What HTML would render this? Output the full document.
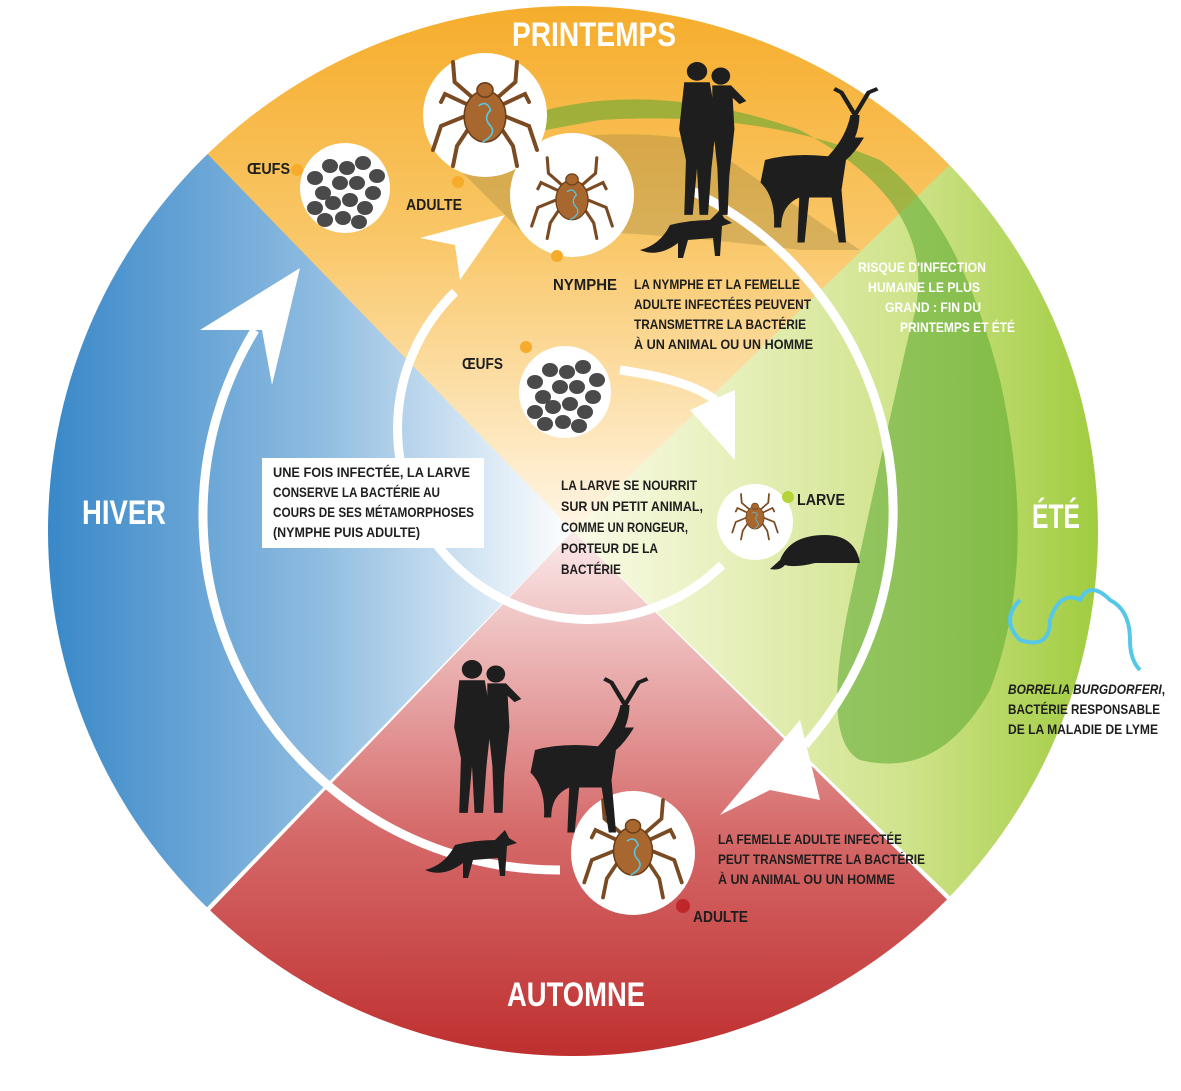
<!DOCTYPE html>
<html><head><meta charset="utf-8"><style>
html,body{margin:0;padding:0;background:#fff;width:1181px;height:1091px;overflow:hidden}
svg{display:block}
text{font-family:"Liberation Sans Narrow","Liberation Sans",sans-serif;font-weight:bold}
</style></head><body>
<svg width="1181" height="1091" viewBox="0 0 1181 1091" xmlns="http://www.w3.org/2000/svg">
<defs>
<clipPath id="c"><circle cx="573" cy="531" r="525"/></clipPath>
<linearGradient id="gt" x1="0" y1="0" x2="0" y2="1"><stop offset="0" stop-color="#f6ac2a"/><stop offset="0.45" stop-color="#f9c768"/><stop offset="1" stop-color="#fff6e6"/></linearGradient>
<linearGradient id="gl" x1="0" y1="0" x2="1" y2="0"><stop offset="0" stop-color="#2a7fc4"/><stop offset="0.55" stop-color="#8dbbe0"/><stop offset="1" stop-color="#ffffff"/></linearGradient>
<linearGradient id="gb" x1="0" y1="1" x2="0" y2="0"><stop offset="0" stop-color="#b71c1c"/><stop offset="0.5" stop-color="#d66a6a"/><stop offset="1" stop-color="#fbeaea"/></linearGradient>
<linearGradient id="gr" x1="1" y1="0" x2="0" y2="0"><stop offset="0" stop-color="#8cc21f"/><stop offset="0.45" stop-color="#cfe38a"/><stop offset="1" stop-color="#fbfbe8"/></linearGradient>
<g id="tick">
<g stroke="#7a4a22" stroke-width="5" fill="none" stroke-linecap="round">
<path d="M-15,-15 L-38,-35 L-40,-60"/><path d="M15,-15 L38,-35 L40,-60"/>
<path d="M-18,-5 L-50,-20 L-55,-10"/><path d="M18,-5 L50,-20 L55,-10"/>
<path d="M-18,5 L-55,20 L-65,50"/><path d="M18,5 L55,20 L65,50"/>
<path d="M-15,15 L-35,45 L-40,70"/><path d="M15,15 L35,45 L40,70"/>
</g>
<ellipse cx="0" cy="8" rx="26" ry="32" fill="#a8672f" stroke="#6b3e1a" stroke-width="2"/>
<ellipse cx="0" cy="-25" rx="10" ry="9" fill="#a8672f" stroke="#6b3e1a" stroke-width="2"/>
<path d="M-8,-5 q10,-8 15,5 q-10,10 0,20 q8,10 -10,20" stroke="#55c8e8" stroke-width="2" fill="none"/>
</g>
<g id="eggs" fill="#4a4a4a">
<ellipse cx="-30" cy="-10" rx="8" ry="7"/><ellipse cx="-15" cy="-22" rx="8" ry="7"/><ellipse cx="2" cy="-20" rx="8" ry="7"/><ellipse cx="18" cy="-25" rx="8" ry="7"/><ellipse cx="32" cy="-12" rx="8" ry="7"/>
<ellipse cx="-22" cy="5" rx="8" ry="7"/><ellipse cx="-5" cy="-5" rx="8" ry="7"/><ellipse cx="12" cy="-5" rx="8" ry="7"/><ellipse cx="28" cy="5" rx="8" ry="7"/>
<ellipse cx="-30" cy="20" rx="8" ry="7"/><ellipse cx="-12" cy="15" rx="8" ry="7"/><ellipse cx="5" cy="12" rx="8" ry="7"/><ellipse cx="20" cy="20" rx="8" ry="7"/>
<ellipse cx="-20" cy="32" rx="8" ry="7"/><ellipse cx="-2" cy="30" rx="8" ry="7"/><ellipse cx="14" cy="34" rx="8" ry="7"/>
</g>
<g id="people" fill="#1e1e1e">
<circle cx="20" cy="12" r="12"/><circle cx="48" cy="18" r="11"/>
<path d="M5,26 h30 l8,50 l-6,60 l-4,60 h-10 l-3,-60 l-5,60 h-10 l2,-70 l-8,-40 z"/>
<path d="M38,30 h22 l18,20 l-8,4 l-8,-8 l2,40 l-6,60 l-2,50 h-10 l-2,-60 l-6,-60 z"/>
</g>
<g id="deer" fill="#1e1e1e">
<path d="M0,60 q30,-10 70,-5 q20,-25 25,-55 l10,0 q0,15 -5,30 l10,0 q-10,20 -20,30 l-5,40 l5,70 h-8 l-8,-60 l-25,0 l-5,60 h-8 l2,-60 q-20,10 -20,40 l-8,0 q2,-40 -15,-60 z"/>
<path d="M100,0 l-15,-30 l-8,-5 m23,35 l15,-30 l10,-5" stroke="#1e1e1e" stroke-width="5" fill="none"/>
</g>
<g id="fox" fill="#1e1e1e"><path d="M0,40 q20,-5 30,-25 q20,-5 40,-5 l10,-10 l4,8 l8,5 l-10,3 l-2,30 h-5 l-2,-18 l-25,2 l-5,18 h-5 l0,-15 q-20,15 -38,7 z"/></g>
</defs>
<g clip-path="url(#c)">
<polygon points="0,0 1181,0 573,531" fill="url(#gt)"/>
<polygon points="0,-60 573,531 0,1120" fill="url(#gl)"/>
<polygon points="0,1130 573,531 1181,1130" fill="url(#gb)"/>
<polygon points="1181,-60 573,531 1181,1120" fill="url(#gr)"/>
<path d="M450,150 Q600,60 800,130 Q950,210 910,330 Q880,460 850,600 Q820,740 860,760 Q940,780 990,690 Q1040,560 1000,380 Q960,220 880,160 Q760,110 600,120 Q490,140 450,150 Z" fill="#5aa830" opacity="0.55"/>
<path d="M460,170 Q560,120 700,140 L860,250 L800,250 Q640,230 520,230 Z" fill="#8a7a3a" opacity="0.3"/>
</g>
<!-- arrows -->
<g fill="none" stroke="#fff" stroke-width="9">
<path d="M560,870 A355,355 0 0 1 255,330"/>
<path d="M690,190 A355,355 0 0 1 805,745"/>
<path d="M722,565 A182,182 0 1 1 455,292"/>
<path d="M620,370 Q690,380 715,400"/>
</g>
<g fill="#fff">
<polygon points="200,330 300,268 272,385 262,330"/>
<polygon points="420,238 505,215 460,280 455,245"/>
<polygon points="690,410 735,390 735,460"/>
<polygon points="720,815 800,720 820,800 770,790"/>
</g>
<!-- bubbles -->
<g fill="#fff">
<circle cx="345" cy="188" r="45"/><circle cx="485" cy="115" r="62"/><circle cx="572" cy="195" r="62"/>
<circle cx="565" cy="392" r="46"/><circle cx="755" cy="522" r="38"/><circle cx="633" cy="853" r="62"/>
</g>
<use href="#eggs" x="345" y="188"/><use href="#eggs" x="565" y="392"/>
<use href="#tick" transform="translate(485,110) scale(0.8)"/>
<use href="#tick" transform="translate(572,195) scale(0.62)"/>
<use href="#tick" transform="translate(755,515) scale(0.35)"/>
<use href="#tick" transform="translate(633,845) scale(0.75)"/>
<g>
<circle cx="297" cy="170" r="6" fill="#f6ac2a"/><circle cx="458" cy="182" r="6" fill="#f6ac2a"/>
<circle cx="557" cy="256" r="6" fill="#f6ac2a"/><circle cx="526" cy="347" r="6" fill="#f6ac2a"/>
<circle cx="788" cy="497" r="6" fill="#b5d33a"/><circle cx="683" cy="906" r="7" fill="#c0272d"/>
</g>
<use href="#people" transform="translate(680,62) scale(0.85,0.78)"/><use href="#deer" transform="translate(765,115) scale(0.9,0.75)"/><use href="#fox" x="640" y="210"/>
<use href="#people" transform="translate(455,660) scale(0.85,0.78)"/><use href="#deer" transform="translate(535,705) scale(0.9,0.75)"/><use href="#fox" x="425" y="830"/>
<path d="M780,560 q10,-25 45,-25 q30,0 35,28 h-45 q-20,5 -30,2 q-5,6 -15,4 z" fill="#1e1e1e"/>
<path d="M1020,600 q-20,20 0,40 q30,10 30,-20 q10,-30 30,-20 q10,-20 30,0 q20,10 20,40 q0,20 10,30" stroke="#55c8e8" stroke-width="4" fill="none"/>
<!-- text -->
<g fill="#fff" font-size="34" lengthAdjust="spacingAndGlyphs">
<text x="512" y="46" textLength="164" lengthAdjust="spacingAndGlyphs">PRINTEMPS</text>
<text x="82" y="524" textLength="84" lengthAdjust="spacingAndGlyphs">HIVER</text>
<text x="1032" y="528" textLength="48" lengthAdjust="spacingAndGlyphs">ÉTÉ</text>
<text x="507" y="1006" textLength="138" lengthAdjust="spacingAndGlyphs">AUTOMNE</text>
</g>
<g font-size="16" fill="#1e1e1e">
<text x="247" y="174" textLength="43" lengthAdjust="spacingAndGlyphs">ŒUFS</text>
<text x="406" y="210" textLength="56" lengthAdjust="spacingAndGlyphs">ADULTE</text>
<text x="553" y="290" textLength="64" lengthAdjust="spacingAndGlyphs">NYMPHE</text>
<text x="462" y="369" textLength="41" lengthAdjust="spacingAndGlyphs">ŒUFS</text>
<text x="797" y="505" textLength="48" lengthAdjust="spacingAndGlyphs">LARVE</text>
<text x="693" y="922" textLength="55" lengthAdjust="spacingAndGlyphs">ADULTE</text>
</g>
<g font-size="14" fill="#1e1e1e">
<text x="634" y="289" textLength="166" lengthAdjust="spacingAndGlyphs">LA NYMPHE ET LA FEMELLE</text>
<text x="634" y="309" textLength="177" lengthAdjust="spacingAndGlyphs">ADULTE INFECTÉES PEUVENT</text>
<text x="634" y="329" textLength="172" lengthAdjust="spacingAndGlyphs">TRANSMETTRE LA BACTÉRIE</text>
<text x="634" y="349" textLength="179" lengthAdjust="spacingAndGlyphs">À UN ANIMAL OU UN HOMME</text>
<text x="561" y="490" textLength="136" lengthAdjust="spacingAndGlyphs">LA LARVE SE NOURRIT</text>
<text x="561" y="511" textLength="142" lengthAdjust="spacingAndGlyphs">SUR UN PETIT ANIMAL,</text>
<text x="561" y="532" textLength="127" lengthAdjust="spacingAndGlyphs">COMME UN RONGEUR,</text>
<text x="561" y="553" textLength="97" lengthAdjust="spacingAndGlyphs">PORTEUR DE LA</text>
<text x="561" y="574" textLength="60" lengthAdjust="spacingAndGlyphs">BACTÉRIE</text>
<text x="718" y="844" textLength="184" lengthAdjust="spacingAndGlyphs">LA FEMELLE ADULTE INFECTÉE</text>
<text x="718" y="864" textLength="207" lengthAdjust="spacingAndGlyphs">PEUT TRANSMETTRE LA BACTÉRIE</text>
<text x="718" y="884" textLength="177" lengthAdjust="spacingAndGlyphs">À UN ANIMAL OU UN HOMME</text>
<text x="1008" y="694" font-style="italic" textLength="157" lengthAdjust="spacingAndGlyphs">BORRELIA BURGDORFERI<tspan font-style="normal">,</tspan></text>
<text x="1008" y="714" textLength="152" lengthAdjust="spacingAndGlyphs">BACTÉRIE RESPONSABLE</text>
<text x="1008" y="734" textLength="150" lengthAdjust="spacingAndGlyphs">DE LA MALADIE DE LYME</text>
</g>
<rect x="262" y="458" width="222" height="90" fill="#fff"/>
<g font-size="14" fill="#1e1e1e">
<text x="273" y="477" textLength="197" lengthAdjust="spacingAndGlyphs">UNE FOIS INFECTÉE, LA LARVE</text>
<text x="273" y="497" textLength="167" lengthAdjust="spacingAndGlyphs">CONSERVE LA BACTÉRIE AU</text>
<text x="273" y="517" textLength="201" lengthAdjust="spacingAndGlyphs">COURS DE SES MÉTAMORPHOSES</text>
<text x="273" y="537" textLength="147" lengthAdjust="spacingAndGlyphs">(NYMPHE PUIS ADULTE)</text>
</g>
<g font-size="14" fill="#fff">
<text x="858" y="272" textLength="128" lengthAdjust="spacingAndGlyphs">RISQUE D'INFECTION</text>
<text x="868" y="292" textLength="112" lengthAdjust="spacingAndGlyphs">HUMAINE LE PLUS</text>
<text x="885" y="312" textLength="96" lengthAdjust="spacingAndGlyphs">GRAND : FIN DU</text>
<text x="900" y="332" textLength="115" lengthAdjust="spacingAndGlyphs">PRINTEMPS ET ÉTÉ</text>
</g>
</svg>
</body></html>
